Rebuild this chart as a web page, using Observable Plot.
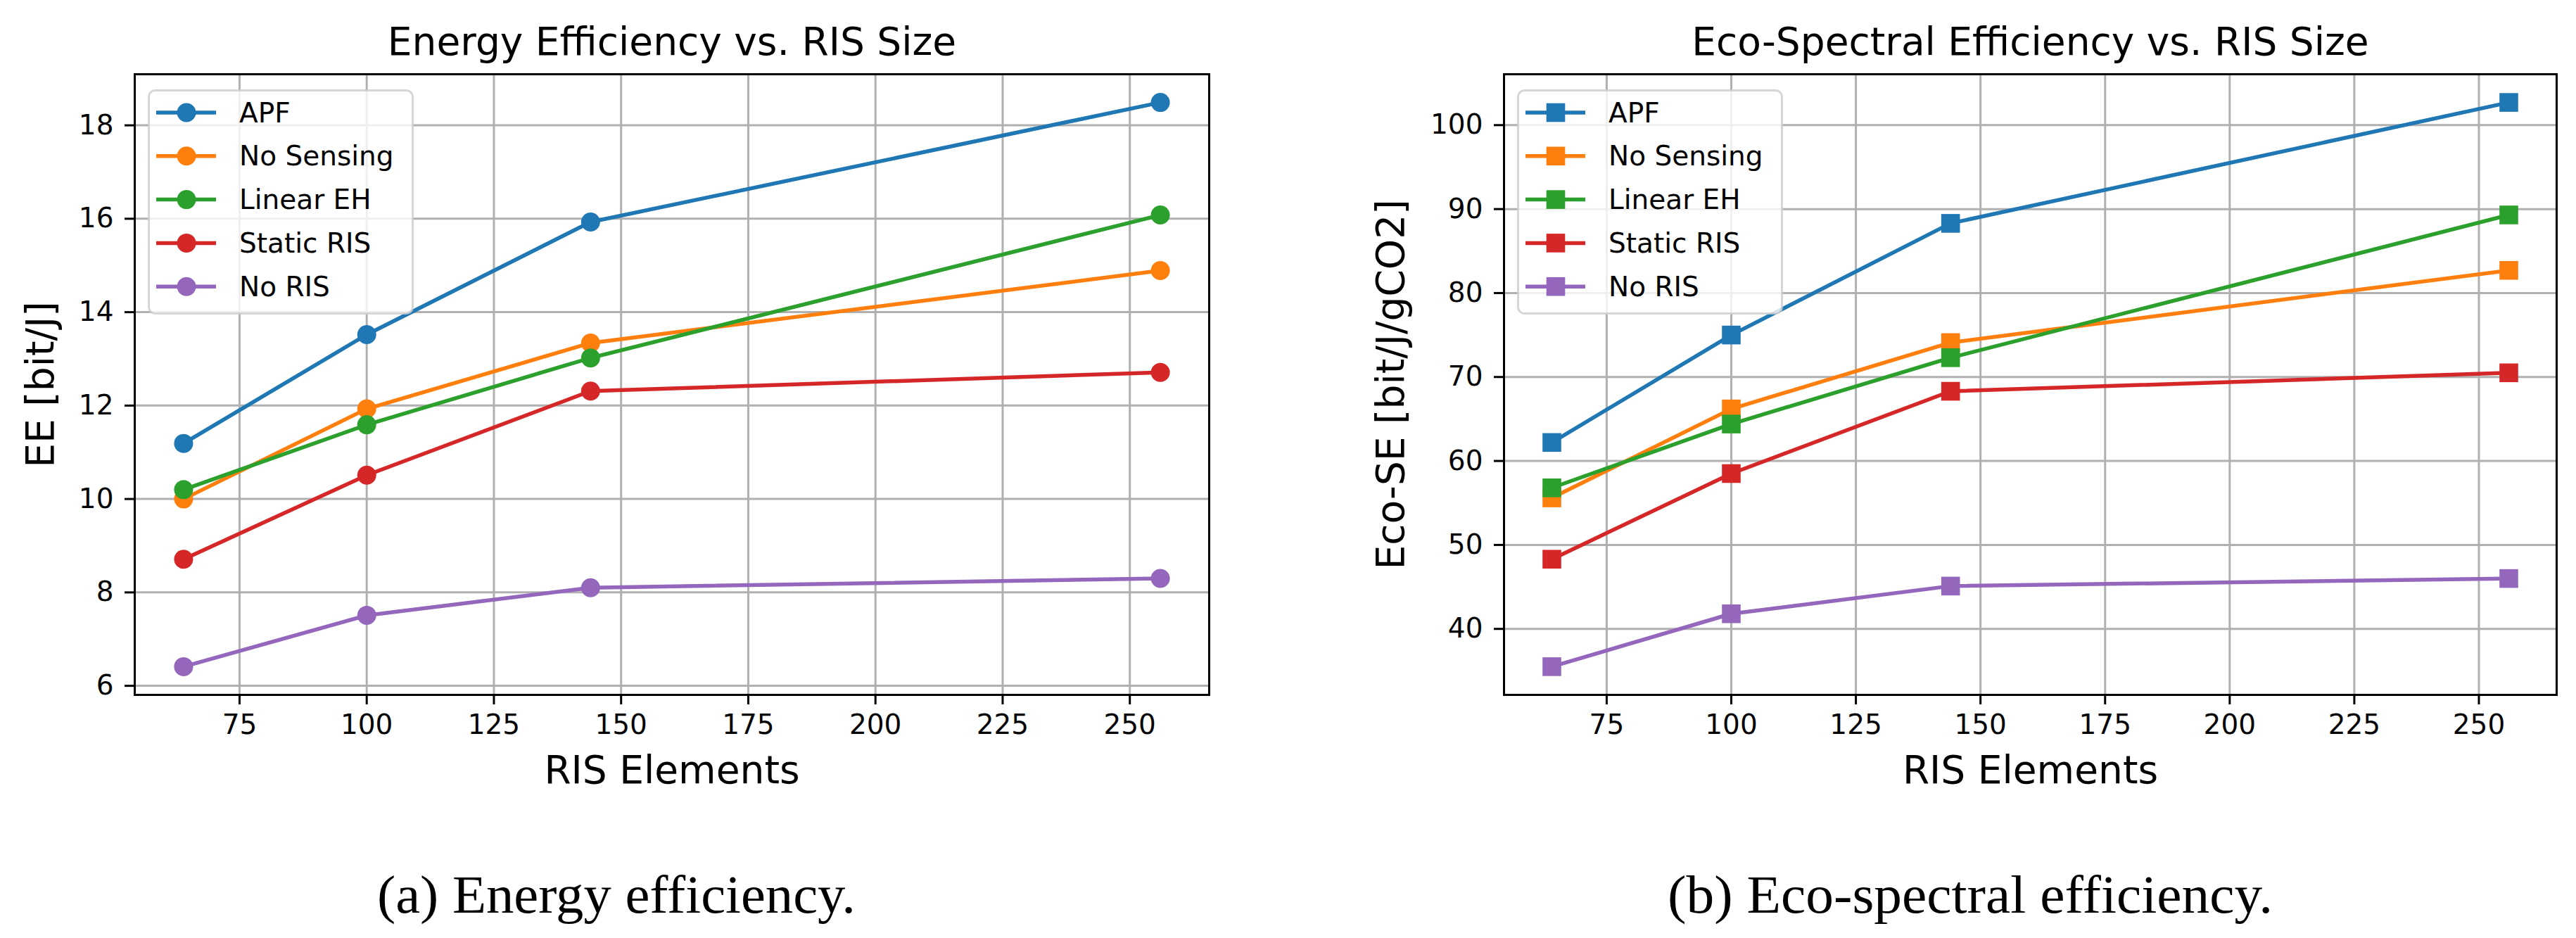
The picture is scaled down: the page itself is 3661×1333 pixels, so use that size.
<!DOCTYPE html>
<html>
<head>
<meta charset="utf-8">
<script src="https://cdn.jsdelivr.net/npm/d3@7"></script>
<script src="https://cdn.jsdelivr.net/npm/@observablehq/plot@0.6"></script>
<style>
  body { margin: 0; background: white; }
  #page { position: relative; width: 3661px; height: 1333px; overflow: hidden; background: white; }
  .panel { position: absolute; top: 0; }
  .legend { position: absolute; top: 127px; }
  .captions { position: absolute; left: 0; top: 0; }
</style>
</head>
<body>
<div id="page"></div>
<script>
// x values and series
const risElements = [64, 100, 144, 256]
const seriesNames = ["APF", "No Sensing", "Linear EH", "Static RIS", "No RIS"]
const seriesColors = ["#1f77b4", "#ff7f0e", "#2ca02c", "#d62728", "#9467bd"]
const xTicks = [75, 100, 125, 150, 175, 200, 225, 250]

// (a) energy efficiency [bit/J]
const eeApf = [11.19, 13.52, 15.93, 18.49]
const eeNoSensing = [10.0, 11.93, 13.34, 14.89]
const eeLinearEh = [10.2, 11.59, 13.02, 16.08]
const eeStaticRis = [8.71, 10.51, 12.31, 12.71]
const eeNoRis = [6.41, 7.51, 8.1, 8.3]
const eeTicks = [6, 8, 10, 12, 14, 16, 18]

// (b) eco-spectral efficiency [bit/J/gCO2]
const ecoApf = [62.2, 75.0, 88.3, 102.7]
const ecoNoSensing = [55.6, 66.2, 74.1, 82.7]
const ecoLinearEh = [56.8, 64.4, 72.3, 89.3]
const ecoStaticRis = [48.3, 58.5, 68.3, 70.5]
const ecoNoRis = [35.5, 41.8, 45.1, 46.0]
const ecoTicks = [40, 50, 60, 70, 80, 90, 100]

// matplotlib-like 5% padding around the data
function padded(values) {
  const [lo, hi] = d3.extent(values)
  const pad = (hi - lo) * 0.05
  return [lo - pad, hi + pad]
}

function panel(cfg) {
  const rows = seriesNames.flatMap((name, i) =>
    risElements.map((x, j) => ({series: name, x: x, y: cfg.values[i][j]})))

  const marks = [
    Plot.gridX({ticks: xTicks, stroke: "#b0b0b0", strokeOpacity: 1, strokeWidth: 3}),
    Plot.gridY({ticks: cfg.yTicks, stroke: "#b0b0b0", strokeOpacity: 1, strokeWidth: 3})
  ]
  // each series: line then markers, like matplotlib draws them
  seriesNames.forEach(name => {
    const d = rows.filter(r => r.series === name)
    marks.push(Plot.line(d, {x: "x", y: "y", stroke: "series", strokeWidth: 5.5}))
    marks.push(Plot.dot(d, {x: "x", y: "y", fill: "series", symbol: cfg.symbol, r: cfg.r}))
  })
  marks.push(
    Plot.frame({stroke: "black", strokeWidth: 3}),
    Plot.axisX({ticks: xTicks, tickSize: 14, tickPadding: 14, fontSize: 39, strokeWidth: 3, label: null}),
    Plot.axisY({ticks: cfg.yTicks, tickSize: 14, tickPadding: 16, fontSize: 39, strokeWidth: 3, label: null}),
    Plot.text([cfg.title], {text: d => d, frameAnchor: "top", textAnchor: "middle", lineAnchor: "middle", dy: -45, fontSize: 55}),
    Plot.text(["RIS Elements"], {text: d => d, frameAnchor: "bottom", textAnchor: "middle", lineAnchor: "middle", dy: 108, fontSize: 55}),
    Plot.text([cfg.yLabel], {text: d => d, frameAnchor: "left", textAnchor: "middle", lineAnchor: "middle", rotate: -90, dx: cfg.yLabelDx, fontSize: 55})
  )

  return Plot.plot({
    width: cfg.width,
    height: 1333,
    marginTop: 105,
    marginBottom: 346,
    marginLeft: cfg.marginLeft,
    marginRight: cfg.marginRight,
    x: {domain: padded(risElements)},
    y: {domain: padded(cfg.values.flat())},
    color: {domain: seriesNames, range: seriesColors},
    style: {fontFamily: "DejaVu Sans", fontSize: "39px", color: "black", background: "transparent", overflow: "visible"},
    marks: marks
  })
}

function legend(symbol) {
  const svg = d3.create("svg").attr("width", 380).attr("height", 322)
    .style("font-family", "DejaVu Sans").style("overflow", "visible")
  svg.append("rect").attr("x", 1.5).attr("y", 1.5).attr("width", 375).attr("height", 317).attr("rx", 9)
    .attr("fill", "white").attr("fill-opacity", 0.8)
    .attr("stroke", "#cccccc").attr("stroke-opacity", 0.8).attr("stroke-width", 3)
  const row = svg.selectAll("g").data(seriesNames).join("g")
    .attr("transform", (d, i) => `translate(0,${33 + i * 61.8})`)
  row.append("line").attr("x1", 12).attr("x2", 97)
    .attr("stroke", (d, i) => seriesColors[i]).attr("stroke-width", 5.5)
  if (symbol === "circle") {
    row.append("circle").attr("cx", 55).attr("r", 13.5).attr("fill", (d, i) => seriesColors[i])
  } else {
    row.append("rect").attr("x", 55 - 13.3).attr("y", -13.3).attr("width", 26.6).attr("height", 26.6)
      .attr("fill", (d, i) => seriesColors[i])
  }
  row.append("text").attr("x", 130).attr("dy", "0.35em").attr("font-size", 39).attr("fill", "black").text(d => d)
  return svg.node()
}

const page = d3.select("#page")

const left = panel({
  values: [eeApf, eeNoSensing, eeLinearEh, eeStaticRis, eeNoRis],
  yTicks: eeTicks,
  symbol: "circle",
  r: 13.5,
  title: "Energy Efficiency vs. RIS Size",
  yLabel: "EE [bit/J]",
  yLabelDx: -133,
  width: 1830,
  marginLeft: 191,
  marginRight: 112
})
page.append("div").attr("class", "panel").style("left", "0px").append(() => left)

const right = panel({
  values: [ecoApf, ecoNoSensing, ecoLinearEh, ecoStaticRis, ecoNoRis],
  yTicks: ecoTicks,
  symbol: "square",
  r: 15,
  title: "Eco-Spectral Efficiency vs. RIS Size",
  yLabel: "Eco-SE [bit/J/gCO2]",
  yLabelDx: -160,
  width: 1831,
  marginLeft: 307,
  marginRight: 28
})
page.append("div").attr("class", "panel").style("left", "1830px").append(() => right)

page.append("div").attr("class", "legend").style("left", "210px").append(() => legend("circle"))
page.append("div").attr("class", "legend").style("left", "2156px").append(() => legend("square"))

// subfigure captions (serif, as in the paper)
const cap = page.append("svg").attr("class", "captions").attr("width", 3661).attr("height", 1333)
cap.append("text").attr("x", 876).attr("y", 1297).attr("text-anchor", "middle")
  .attr("font-family", "Liberation Serif").attr("font-size", 76)
  .attr("textLength", 680).attr("lengthAdjust", "spacingAndGlyphs")
  .text("(a) Energy efficiency.")
cap.append("text").attr("x", 2800).attr("y", 1297).attr("text-anchor", "middle")
  .attr("font-family", "Liberation Serif").attr("font-size", 76)
  .attr("textLength", 860).attr("lengthAdjust", "spacingAndGlyphs")
  .text("(b) Eco-spectral efficiency.")
</script>
</body>
</html>
